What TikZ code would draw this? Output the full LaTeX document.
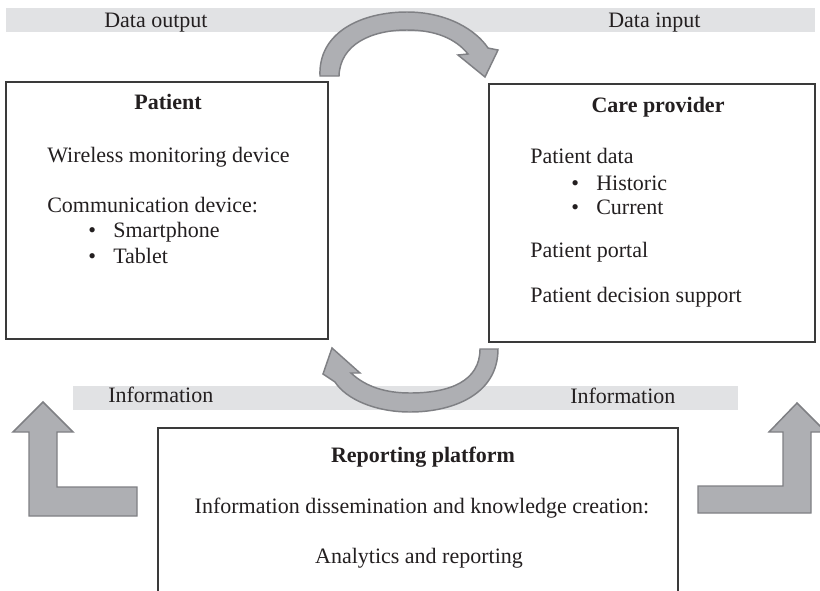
\documentclass[tikz,border=0pt]{standalone}
\usepackage{fontspec}
\setmainfont{Liberation Serif}
\definecolor{bandgray}{HTML}{E1E2E4}
\definecolor{arrowfill}{HTML}{AEAFB3}
\definecolor{arrowline}{HTML}{7F8084}
\definecolor{boxline}{HTML}{3A3A3A}
\definecolor{textcol}{HTML}{231F20}
\tikzset{
  band/.style={fill=bandgray, draw=none},
  bigarrow/.style={fill=arrowfill, draw=arrowline, line width=1.1pt, line join=miter},
  boxframe/.style={draw=boxline, line width=1pt},
  txt/.style={inner sep=0pt, text=textcol, font=\fontsize{16.5}{20}\selectfont},
  ttl/.style={inner sep=0pt, text=textcol, font=\fontsize{16.5}{20}\selectfont\bfseries},
}
\begin{document}
\begin{tikzpicture}[x=0.75pt,y=-0.75pt]
\useasboundingbox (0,0) rectangle (820,590);
\clip (0,0) rectangle (820,590);

% bands
\path[band] (6,8) rectangle (815,32);
\path[band] (73,386) rectangle (738,410);

% band labels
\node[txt, anchor=base west] (dout) at (104,27) {Data output};
\node[txt, anchor=base west] (din) at (608,27) {Data input};
\node[txt, anchor=base west] (infoL) at (108,402) {Information};
\node[txt, anchor=base west] (infoR) at (570,403) {Information};

% top curved arrow
\draw[bigarrow] (320,76) .. controls (318,32) and (362,12) .. (407,12)
  .. controls (447,12) and (476,30) .. (488,48) -- (498,50) -- (485,77)
  -- (458,55) -- (468,54) .. controls (456,39) and (436,30) .. (407,30)
  .. controls (372,30) and (340,44) .. (339,76) -- cycle;

% bottom curved arrow
\draw[bigarrow] (480,349) -- (498,349) .. controls (498,395) and (452,412) .. (410,412)
  .. controls (375,412) and (346,399) .. (335,382) -- (323,374) -- (332,348)
  -- (360,373) -- (351,373) .. controls (366,387) and (386,393) .. (410,393)
  .. controls (450,393) and (480,381) .. (480,349) -- cycle;

% L arrows
\draw[bigarrow] (43,402) -- (73,432) -- (57,432) -- (57,487) -- (137,487) -- (137,516)
  -- (29,516) -- (29,432) -- (13,432) -- cycle;
\draw[bigarrow] (797,403) -- (826,432) -- (811,432) -- (811,513) -- (698,513) -- (698,486)
  -- (783,486) -- (783,432) -- (769,432) -- cycle;

% boxes
\draw[boxframe] (6,82) rectangle (328,339);
\draw[boxframe] (489,84) rectangle (815,342);
\draw[boxframe] (158,595) -- (158,428) -- (678,428) -- (678,595);

% Patient box text
\node[ttl, anchor=base] (ptitle) at (168,109) {Patient};
\node[txt, anchor=base west] (pwire) at (47,162) {Wireless monitoring device};
\node[txt, anchor=base west] (pcomm) at (47,212) {Communication device:};
\node[txt, anchor=base west] (pb1) at (88,237) {•};
\node[txt, anchor=base west] (psmart) at (113,237) {Smartphone};
\node[txt, anchor=base west] (pb2) at (88,263) {•};
\node[txt, anchor=base west] (ptab) at (113,263) {Tablet};

% Care provider text
\node[ttl, anchor=base] (ctitle) at (658,112) {Care provider};
\node[txt, anchor=base west] (cdata) at (530,163) {Patient data};
\node[txt, anchor=base west] (cb1) at (571,190) {•};
\node[txt, anchor=base west] (chist) at (596,190) {Historic};
\node[txt, anchor=base west] (cb2) at (571,214) {•};
\node[txt, anchor=base west] (ccur) at (596,214) {Current};
\node[txt, anchor=base west] (cportal) at (530,257) {Patient portal};
\node[txt, anchor=base west] (cdec) at (530,302) {Patient decision support};

% Reporting platform text
\node[ttl, anchor=base] (rtitle) at (423,462) {Reporting platform};
\node[txt, anchor=base] (rinfo) at (422,513) {Information dissemination and knowledge creation:};
\node[txt, anchor=base] (ranal) at (419,563) {Analytics and reporting};
\end{tikzpicture}
\end{document}
